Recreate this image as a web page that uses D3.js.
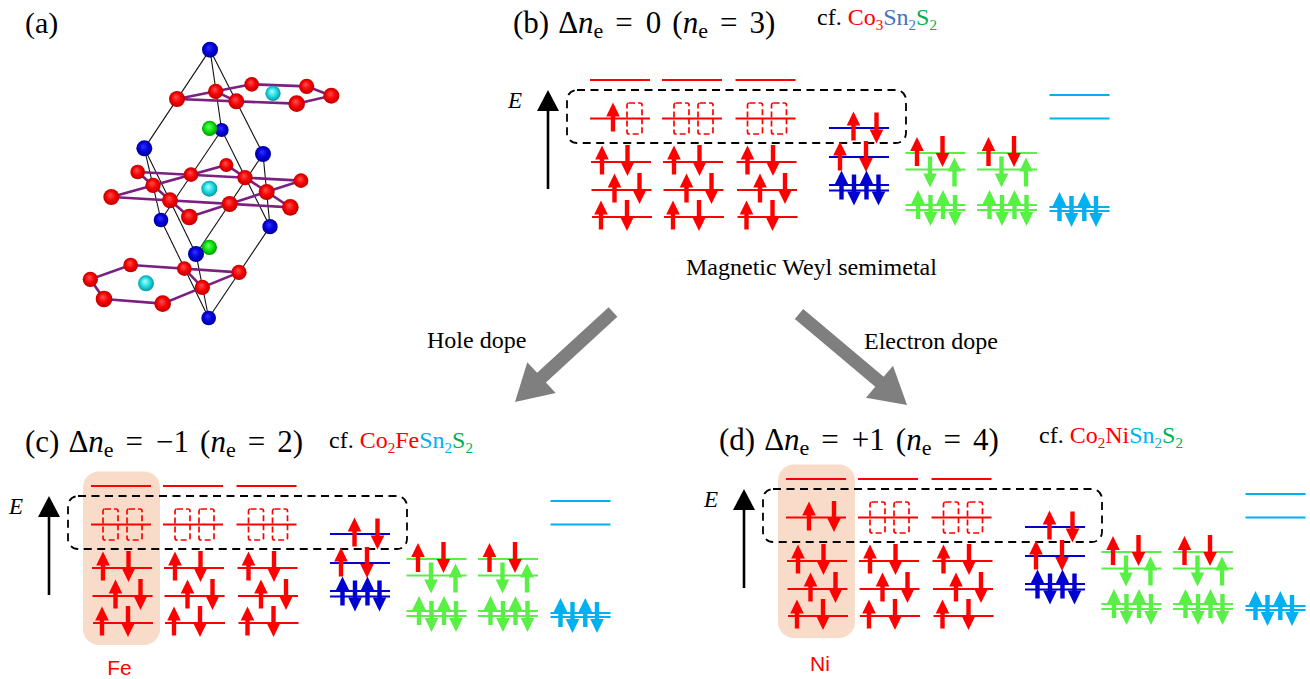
<!DOCTYPE html>
<html>
<head>
<meta charset="utf-8">
<script src="https://cdn.jsdelivr.net/npm/d3@7"></script>
<style>
  html, body { margin: 0; padding: 0; background: #fff; }
  svg { display: block; }
  text { font-family: "Liberation Serif", serif; fill: #000; }
</style>
</head>
<body>
<div id="chart"></div>
<script>
// level energies (arb. units)
var coEnergies   = [137, 98.5, 55, 27, 0];
var snEnergies   = [89, 60, 32, 26.5];
var sEnergies    = [64, 47.5, 12, 7];
var cyanEnergies = [122, 98.5, 10, 6];

// filling of each level, u = spin up, d = spin down, 0 = empty (dashed) site
var coFillB = ["u0", "00", "00"];
var coFillC = ["00", "00", "00"];
var coFillD = ["ud", "00", "00"];
var coLower = ["ud", "ud", "ud"];
var snFill   = ["ud", "ud", "udud", ""];
var sFill    = ["ud", "du", "udud", ""];
var cyanFill = ["", "", "udud", ""];

var panelNames = ["b", "c", "d"];
var hostAtom   = ["", "Fe", "Ni"];
var formulaB = [["cf. ", "#000"], ["Co", "#f00"], ["3", "#f00", 1], ["Sn", "#4472c4"], ["2", "#4472c4", 1], ["S", "#00b050"], ["2", "#00b050", 1]];
var formulaC = [["cf. ", "#000"], ["Co", "#f00"], ["2", "#f00", 1], ["Fe", "#f00"], ["Sn", "#00b0f0"], ["2", "#00b0f0", 1], ["S", "#00b050"], ["2", "#00b050", 1]];
var formulaD = [["cf. ", "#000"], ["Co", "#f00"], ["2", "#f00", 1], ["Ni", "#f00"], ["Sn", "#00b0f0"], ["2", "#00b0f0", 1], ["S", "#00b050"], ["2", "#00b050", 1]];

// crystal structure, atoms as [x, y, r] in drawing units
var cyanAtoms = [[819,220,23],[628,506,24],[438,790,24]];
var blueAtoms = [[630,89,24],[665,330,21],[433,385,24],[789,402,24],[483,600,22],[810,620,23],[626,894,22]];
var greenAtoms = [[629,325,23],[628,682,23]];
var frontBlueAtoms = [[588,702,24]];
var redAtoms = [[755,193,22],[920,199,23],[647,214,23],[994,227,24],[531,237,24],[709,244,24],[890,251,25],
  [679,435,21],[413,456,22],[573,464,22],[735,473,23],[903,482,22],[459,496,23],[800,516,24],[334,531,24],[510,541,24],[689,552,24],[871,562,25],[568,591,25],
  [392,735,22],[553,746,22],[717,757,23],[271,778,23],[607,802,23],[312,837,25],[488,851,25]];
var cellEdges = [
  [[630,89],[433,385]], [[630,89],[665,330]], [[630,89],[789,402]],
  [[433,385],[483,600]], [[433,385],[588,702]], [[665,330],[483,600]], [[665,330],[810,620]],
  [[789,402],[810,620]], [[789,402],[588,702]],
  [[483,600],[626,894]], [[588,702],[626,894]], [[810,620],[626,894]]];
var kagomeBonds = [
  [[531,237],[647,214],[755,193],[920,199],[994,227],[890,251],[531,237]], [[647,214],[709,244]],
  [[413,456],[903,482],[568,591],[413,456]], [[334,531],[871,562],[679,435],[334,531]],
  [[392,735],[717,757],[488,851],[312,837],[271,778],[392,735]], [[553,746],[607,802]]];

var width = 1310, height = 679;
var svg = d3.select("#chart").append("svg").attr("width", width).attr("height", height);
var defs = svg.append("defs");

// scales
var yE = d3.scaleLinear().domain([0, 137]).range([217, 80]);
var colNames = ["co0", "co1", "co2", "sn", "s0", "s1", "x"];
var xCol = d3.scaleOrdinal().domain(colNames).range([590, 662, 735.5, 829, 905.5, 977, 1049.5]);
var xAtom = d3.scaleLinear().domain([0, 1050]).range([0, 350]);
var yAtom = d3.scaleLinear().domain([0, 960]).range([20, 340]);
var rAtom = d3.scaleLinear().domain([0, 30]).range([0, 10]);

var RED = "#ff0000", BLUE = "#0000d0", GREEN = "#58f044", CYAN = "#00b0f0";
var levelW = 60;
var coShift = [0, 0, 1, 1.5, 2];
var coSlots = [[], [23, 48], [12, 37.5], [24.5, 49.5], [11, 37]];
var holeSlots = [19.5, 43.5];
var doubleSlots = [12.5, 25, 37.5, 49.5];

function spinPath(dir) {
  // arrow drawn around 0,0, dir=-1 points up
  var half = dir < 0 ? 14.5 : 15.5;
  var tip = dir * half, neck = tip - dir * 14;
  return "M0," + tip + "L6.8," + neck + "L2.2,"+ neck + "L2.2," + (-tip) + "L-2.2," + (-tip) + "L-2.2," + neck + "L-6.8," + neck + "Z";
}

function drawLevel(g, col, energy, color, shift) {
  var x0 = xCol(col) + (shift || 0);
  g.append("line").attr("x1", x0).attr("x2", x0 + levelW)
    .attr("y1", yE(energy)).attr("y2", yE(energy))
    .attr("stroke", color).attr("stroke-width", 2);
}

function drawSpins(g, col, energy, fill, slots, color, shift, dy) {
  var x0 = xCol(col) + (shift || 0);
  fill.split("").forEach(function (s, i) {
    if (s == "0") return;
    var dir = s == "u" ? -1 : 1;
    var off = dy ? (dir < 0 ? dy[0] : dy[1]) : -1;
    g.append("path").attr("d", spinPath(dir))
      .attr("transform", "translate(" + (x0 + slots[i]) + "," + (yE(energy) + off) + ")")
      .attr("fill", color);
  });
}

function drawHole(g, col, energy, slot) {
  g.append("rect").attr("x", xCol(col) + slot - 7.5).attr("y", yE(energy) - 15.5)
    .attr("width", 15).attr("height", 31).attr("rx", 2)
    .attr("fill", "none").attr("stroke", RED).attr("stroke-width", 1.7)
    .attr("stroke-dasharray", "6,3");
}

function drawPanel(idx, dx, dy, coFill, labelX, labelY) {
  var g = svg.append("g").attr("class", "panel panel_" + panelNames[idx])
    .attr("transform", "translate(" + dx + "," + dy + ")");

  if (hostAtom[idx]) {
    g.append("rect").attr("x", 582).attr("y", yE(151.5)).attr("width", 77).attr("height", 173.5)
      .attr("rx", 16).attr("fill", "#f8dbc8");
  }

  // energy axis
  g.append("line").attr("x1", 548).attr("x2", 548).attr("y1", yE(28)).attr("y2", yE(110))
    .attr("stroke", "#000").attr("stroke-width", 2.6);
  g.append("path").attr("d", "M548," + yE(127) + "L559," + yE(106) + "L537," + yE(106) + "Z").attr("fill", "#000");
  g.append("text").attr("x", 508).attr("y", 108).attr("font-size", 23).attr("font-style", "italic").text("E");

  // dashed frame goes under the arrows
  g.append("rect").attr("x", 567).attr("y", 90).attr("width", 339).attr("height", 53).attr("rx", 10)
    .attr("fill", "none").attr("stroke", "#000").attr("stroke-width", 1.8).attr("stroke-dasharray", "8,5.5");

  // Co levels
  colNames.slice(0, 3).forEach(function (c, k) {
    coEnergies.forEach(function (e, r) { drawLevel(g, c, e, RED, coShift[r]); });
    var top = coFill[k];
    top.split("").forEach(function (s, i) {
      if (s == "0") drawHole(g, c, coEnergies[1], holeSlots[i] + (top[0] == "u" ? 1 : 0));
    });
    drawSpins(g, c, coEnergies[1], top, coSlots[1], RED, 0, [-1.5, -1]);
    coEnergies.slice(2).forEach(function (e, r) {
      drawSpins(g, c, e, coLower[k], coSlots[r + 2], RED, 0, [-2, -1.5]);
    });
  });

  // Sn levels
  snEnergies.forEach(function (e) { drawLevel(g, "sn", e, BLUE); });
  drawSpins(g, "sn", snEnergies[0], snFill[0], [24.5, 47.5], RED, 0, [-2, 0]);
  drawSpins(g, "sn", snEnergies[1], snFill[1], [11, 37], RED, 0, [-1, -0.5]);
  drawSpins(g, "sn", snEnergies[2], snFill[2], doubleSlots, BLUE, 0, [0, 5]);

  // S levels
  ["s0", "s1"].forEach(function (c) {
    sEnergies.forEach(function (e) { drawLevel(g, c, e, GREEN); });
    drawSpins(g, c, sEnergies[0], sFill[0], [11.5, 37], RED, 0, [-1.5, -1.5]);
    drawSpins(g, c, sEnergies[1], sFill[1], [24.5, 49], GREEN, 0, [2.5, 2.5]);
    drawSpins(g, c, sEnergies[2], sFill[2], doubleSlots, GREEN, 0, [-0.5, 5.5]);
  });

  // cyan levels
  cyanEnergies.forEach(function (e) { drawLevel(g, "x", e, CYAN); });
  drawSpins(g, "x", cyanEnergies[2], cyanFill[2], [10, 22, 34.8, 46.5], CYAN, 0, [-0.5, 4.5]);

  if (hostAtom[idx]) {
    g.append("text").attr("x", labelX).attr("y", labelY).attr("text-anchor", "middle")
      .attr("font-size", 21).style("font-family", "'Liberation Sans'").style("fill", RED).text(hostAtom[idx]);
  }
}

drawPanel(0, 0, 0, coFillB);
drawPanel(1, -499, 406, coFillC, 618.5, 268.5);
drawPanel(2, 196, 399, coFillD, 624, 271.5);

// crystal, panel (a)
var atomLine = d3.line().x(function (d) { return xAtom(d[0]); }).y(function (d) { return yAtom(d[1]); });
var crystal = svg.append("g").attr("class", "crystal");

[["red", "#ff5050", "#f40000", "#b00000"], ["blue", "#3030ff", "#0000d8", "#000088"],
 ["green", "#70ff70", "#08e008", "#008800"], ["cyan", "#b0ffff", "#18d8e0", "#0a8890"]].forEach(function (s) {
  var grad = defs.append("radialGradient").attr("id", "ball_" + s[0]).attr("cx", "50%").attr("cy", "50%")
    .attr("r", "55%").attr("fx", "42%").attr("fy", "36%");
  grad.append("stop").attr("offset", "0%").attr("stop-color", s[1]);
  grad.append("stop").attr("offset", "55%").attr("stop-color", s[2]);
  grad.append("stop").attr("offset", "100%").attr("stop-color", s[3]);
});

crystal.selectAll(".cell").data(cellEdges).enter().append("path").attr("class", "cell")
  .attr("d", atomLine).attr("fill", "none").attr("stroke", "#111").attr("stroke-width", 1.1);
crystal.selectAll(".bond").data(kagomeBonds).enter().append("path").attr("class", "bond")
  .attr("d", atomLine).attr("fill", "none").attr("stroke", "#7b1f80").attr("stroke-width", 2.6);

function drawAtoms(list, name) {
  crystal.selectAll(".atom_" + name + list.length).data(list).enter().append("circle")
    .attr("class", "atom_" + name + list.length)
    .attr("cx", function (d) { return xAtom(d[0]); })
    .attr("cy", function (d) { return yAtom(d[1]); })
    .attr("r", function (d) { return rAtom(d[2]); })
    .attr("fill", "url(#ball_" + name + ")");
}
drawAtoms(cyanAtoms, "cyan");
drawAtoms(blueAtoms, "blue");
drawAtoms(greenAtoms, "green");
drawAtoms(frontBlueAtoms, "blue");
drawAtoms(redAtoms, "red");

// the gray dope arrows
function bigArrow(x1, y1, x2, y2) {
  var a = Math.atan2(y2 - y1, x2 - x1) * 180 / Math.PI;
  var len = Math.sqrt((x2 - x1) * (x2 - x1) + (y2 - y1) * (y2 - y1));
  svg.append("path").attr("fill", "#7f7f7f")
    .attr("transform", "translate(" + x1 + "," + y1 + ") rotate(" + a + ")")
    .attr("d", "M0,-6.5L" + (len - 36) + ",-6.5L" + (len - 36) + ",-21L" + len + ",0L" + (len - 36) + ",21L" + (len - 36) + ",6.5L0,6.5Z");
}
bigArrow(613, 312, 515, 402);
bigArrow(799, 314, 907, 405);

// text
function title(x, y, label, value, count) {
  var t = svg.append("text").attr("x", x).attr("y", y).attr("font-size", 31);
  t.append("tspan").text(label);
  t.append("tspan").attr("dx", 9).text("Δ");
  t.append("tspan").attr("font-style", "italic").text("n");
  t.append("tspan").attr("font-size", 22).attr("dy", 5).text("e");
  t.append("tspan").attr("dy", -5).attr("dx", 12).text("=");
  t.append("tspan").attr("dx", 13).text(value);
  t.append("tspan").attr("dx", 11).text("(");
  t.append("tspan").attr("font-style", "italic").text("n");
  t.append("tspan").attr("font-size", 22).attr("dy", 5).text("e");
  t.append("tspan").attr("dy", -5).attr("dx", 12).text("=");
  t.append("tspan").attr("dx", 12).text(count + ")");
}
function formula(x, y, parts) {
  var t = svg.append("text").attr("x", x).attr("y", y).attr("font-size", 24);
  var wasSub = false;
  parts.forEach(function (p) {
    var s = t.append("tspan").text(p[0]).style("fill", p[1]);
    if (p[2]) { s.attr("font-size", 15).attr("dy", 5); wasSub = true; }
    else if (wasSub) { s.attr("dy", -5); wasSub = false; }
  });
}
svg.append("text").attr("x", 25).attr("y", 33).attr("font-size", 30).text("(a)");
title(513, 33, "(b)", "0", "3");
title(25, 452, "(c)", "−1", "2");
title(719, 450, "(d)", "+1", "4");
formula(817, 25, formulaB);
formula(329, 448, formulaC);
formula(1039, 443, formulaD);
svg.append("text").attr("x", 686).attr("y", 275).attr("font-size", 24).text("Magnetic Weyl semimetal");
svg.append("text").attr("x", 427).attr("y", 348).attr("font-size", 24).text("Hole dope");
svg.append("text").attr("x", 864).attr("y", 349).attr("font-size", 24).text("Electron dope");
</script>
</body>
</html>
